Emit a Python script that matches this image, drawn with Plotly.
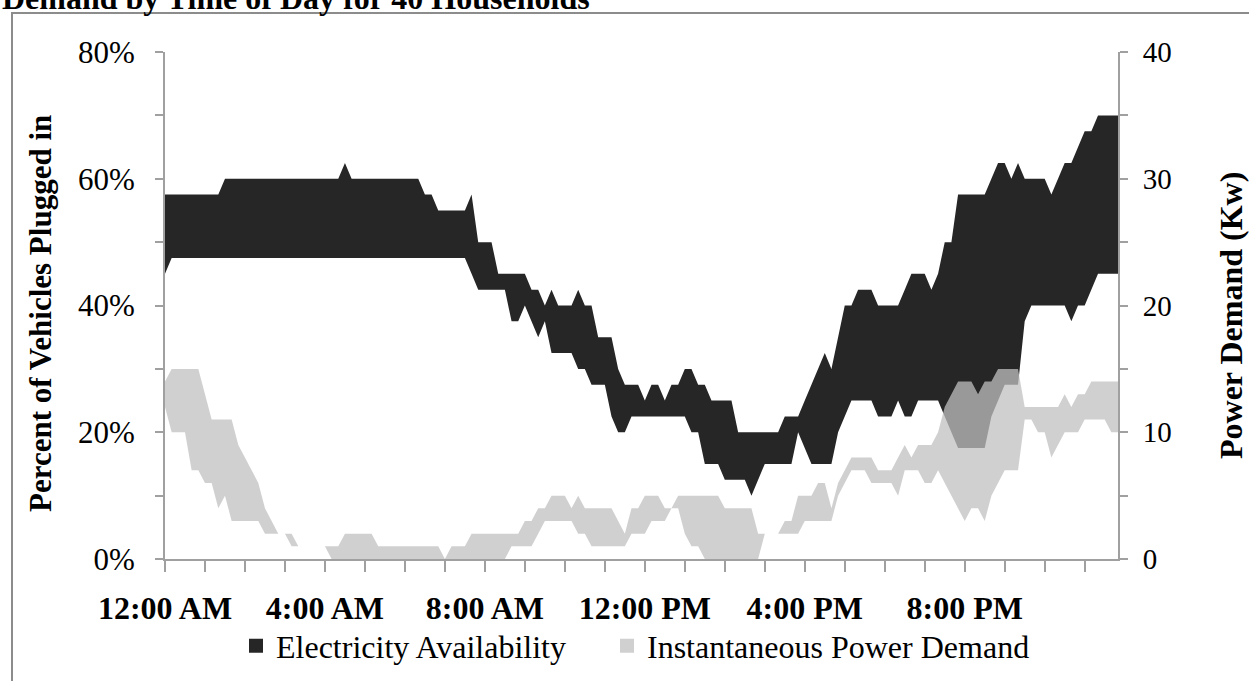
import plotly.graph_objects as go

# ---- data (10-minute slots, 00:00 .. 23:50) ----
time_slots = [f"{h:02d}:{m:02d}" for h in range(24) for m in range(0, 60, 10)]
hours = [int(t[:2]) + int(t[3:]) / 60 for t in time_slots]

# Electricity availability band (percent of vehicles plugged in), lower and upper edge
avail_low = [
    45, 47.5, 47.5, 47.5, 47.5, 47.5, 47.5, 47.5, 47.5, 47.5, 47.5, 47.5,
    47.5, 47.5, 47.5, 47.5, 47.5, 47.5, 47.5, 47.5, 47.5, 47.5, 47.5, 47.5,
    47.5, 47.5, 47.5, 47.5, 47.5, 47.5, 47.5, 47.5, 47.5, 47.5, 47.5, 47.5,
    47.5, 47.5, 47.5, 47.5, 47.5, 47.5, 47.5, 47.5, 47.5, 47.5, 45, 42.5,
    42.5, 42.5, 42.5, 42.5, 37.5, 37.5, 40, 37.5, 35, 37.5, 32.5, 32.5,
    32.5, 32.5, 30, 30, 27.5, 27.5, 27.5, 22.5, 20, 20, 22.5, 22.5,
    22.5, 22.5, 22.5, 22.5, 22.5, 22.5, 22.5, 20, 20, 15, 15, 15,
    12.5, 12.5, 12.5, 12.5, 10, 12.5, 15, 15, 15, 15, 15, 20,
    17.5, 15, 15, 15, 15, 20, 22.5, 25, 25, 25, 25, 22.5,
    22.5, 22.5, 25, 22.5, 22.5, 25, 25, 25, 25, 22.5, 20, 17.5,
    17.5, 17.5, 17.5, 17.5, 22.5, 25, 27.5, 27.5, 27.5, 37.5, 40, 40,
    40, 40, 40, 40, 37.5, 40, 40, 42.5, 45, 45, 45, 45,
]
avail_high = [
    57.5, 57.5, 57.5, 57.5, 57.5, 57.5, 57.5, 57.5, 57.5, 60, 60, 60,
    60, 60, 60, 60, 60, 60, 60, 60, 60, 60, 60, 60,
    60, 60, 60, 62.5, 60, 60, 60, 60, 60, 60, 60, 60,
    60, 60, 60, 57.5, 57.5, 55, 55, 55, 55, 55, 57.5, 50,
    50, 50, 45, 45, 45, 45, 45, 42.5, 42.5, 40, 42.5, 40,
    40, 40, 42.5, 40, 40, 35, 35, 35, 30, 27.5, 27.5, 27.5,
    25, 27.5, 27.5, 25, 27.5, 27.5, 30, 30, 27.5, 27.5, 25, 25,
    25, 25, 20, 20, 20, 20, 20, 20, 20, 22.5, 22.5, 22.5,
    25, 27.5, 30, 32.5, 30, 35, 40, 40, 42.5, 42.5, 42.5, 40,
    40, 40, 40, 42.5, 45, 45, 45, 42.5, 45, 50, 50, 57.5,
    57.5, 57.5, 57.5, 57.5, 60, 62.5, 62.5, 60, 62.5, 60, 60, 60,
    60, 57.5, 60, 62.5, 62.5, 65, 67.5, 67.5, 70, 70, 70, 70,
]

# Instantaneous power demand band (kW), lower and upper edge
demand_low = [
    12, 10, 10, 10, 7, 7, 6, 6, 4, 5, 3, 3,
    3, 3, 3, 2, 2, 2, 2, 1, 1, 1, 1, 1,
    1, 0, 0, 0, 0, 0, 0, 0, 0, 0, 0, 0,
    0, 0, 0, 0, 0, 0, 0, 0, 0, 0, 0, 0,
    0, 0, 0, 0, 1, 1, 1, 1, 2, 3, 3, 3,
    3, 3, 2, 2, 1, 1, 1, 1, 1, 1, 2, 2,
    2, 3, 3, 3, 4, 4, 2, 1, 1, 0, 0, 0,
    0, 0, 0, 0, 0, 0, 2, 2, 2, 2, 2, 2,
    3, 3, 3, 3, 3, 5, 6, 7, 7, 7, 6, 6,
    6, 6, 5, 7, 7, 7, 6, 6, 7, 6, 5, 4,
    3, 4, 4, 3, 5, 6, 7, 7, 7, 11, 11, 10,
    10, 8, 9, 10, 10, 10, 11, 11, 11, 11, 10, 10,
]
demand_high = [
    14, 15, 15, 15, 15, 15, 13, 11, 11, 11, 11, 9,
    8, 7, 6, 4, 3, 2, 2, 2, 1, 1, 1, 1,
    1, 1, 1, 2, 2, 2, 2, 2, 1, 1, 1, 1,
    1, 1, 1, 1, 1, 1, 0, 1, 1, 1, 2, 2,
    2, 2, 2, 2, 2, 2, 3, 3, 4, 4, 5, 5,
    5, 4, 5, 4, 4, 4, 4, 4, 3, 2, 4, 4,
    5, 5, 5, 4, 4, 5, 5, 5, 5, 5, 5, 5,
    4, 4, 4, 4, 4, 2, 2, 2, 2, 3, 3, 5,
    5, 5, 6, 6, 4, 6, 7, 8, 8, 8, 8, 7,
    7, 7, 8, 9, 8, 9, 9, 9, 10, 12, 13, 14,
    14, 14, 13, 14, 14, 15, 15, 15, 15, 12, 12, 12,
    12, 12, 12, 13, 12, 13, 13, 14, 14, 14, 14, 14,
]

x_tick_hours = [0, 4, 8, 12, 16, 20]
x_tick_labels = ["12:00 AM", "4:00 AM", "8:00 AM", "12:00 PM", "4:00 PM", "8:00 PM"]
series_names = ["Electricity Availability", "Instantaneous Power Demand"]

# ---- styling ----
FONT = "Liberation Serif"
DARK = "#262626"
LIGHT = "rgba(192,192,192,0.75)"
LEGEND_LIGHT = "#d0d0d0"
AXIS = "#a0a0a0"

fig = go.Figure()

fig.add_trace(go.Scatter(x=hours, y=avail_low, mode="lines", line=dict(width=0, color=DARK),
                         showlegend=False, hoverinfo="skip"))
fig.add_trace(go.Scatter(x=hours, y=avail_high, mode="lines", line=dict(width=0, color=DARK),
                         fill="tonexty", fillcolor=DARK, showlegend=False, name=series_names[0]))
fig.add_trace(go.Scatter(x=hours, y=demand_low, mode="lines", yaxis="y2",
                         line=dict(width=0, color=LIGHT), showlegend=False, hoverinfo="skip"))
fig.add_trace(go.Scatter(x=hours, y=demand_high, mode="lines", yaxis="y2",
                         line=dict(width=0, color=LIGHT), fill="tonexty", fillcolor=LIGHT,
                         showlegend=False, name=series_names[1]))

# legend keys (one legend box each, so each can be placed like the reference)
fig.add_trace(go.Scatter(x=[None], y=[None], mode="markers", name=series_names[0],
                         marker=dict(symbol="square", size=14, color=DARK), legend="legend"))
fig.add_trace(go.Scatter(x=[None], y=[None], mode="markers", name=series_names[1],
                         marker=dict(symbol="square", size=14, color=LEGEND_LIGHT), legend="legend2"))

W, H = 1249, 681
ML, MR, MT, MB = 165, 131, 52, 122
PW, PH = W - ML - MR, H - MT - MB


def px_x(px):
    return (px - ML) / PW


def px_y(py):
    return (H - MB - py) / PH


legend_common = dict(
    orientation="h", xref="container", yref="container",
    xanchor="left", yanchor="middle", y=(H - 646) / H,
    font=dict(family=FONT, size=32, color="black"), bgcolor="rgba(0,0,0,0)",
    itemclick=False,
)

fig.update_layout(
    template="none",
    width=W, height=H,
    margin=dict(l=ML, r=MR, t=MT, b=MB, pad=0, autoexpand=False),
    paper_bgcolor="white", plot_bgcolor="white",
    font=dict(family=FONT, color="black", size=29),
    xaxis=dict(
        range=[0, hours[-1]], showgrid=False, zeroline=False, automargin=False,
        showline=True, linecolor=AXIS, linewidth=2,
        tickmode="array", tickvals=x_tick_hours,
        ticktext=[f"<b>{t}</b>" for t in x_tick_labels],
        ticks="outside", ticklen=11, tickwidth=1.5, tickcolor=AXIS,
        tickfont=dict(family=FONT, size=32, color="black"),
        ticklabelstandoff=9,
        minor=dict(dtick=1, ticks="outside", ticklen=11, tickwidth=1.5, tickcolor=AXIS),
    ),
    yaxis=dict(
        range=[0, 80], showgrid=False, zeroline=False, automargin=False,
        showline=True, linecolor=AXIS, linewidth=2,
        tickmode="linear", tick0=0, dtick=20, ticksuffix="%",
        ticks="outside", ticklen=8, tickwidth=1.5, tickcolor=AXIS,
        tickfont=dict(family=FONT, size=31, color="black"),
        ticklabelstandoff=14,
        minor=dict(dtick=10, ticks="outside", ticklen=8, tickwidth=1.5, tickcolor=AXIS),
    ),
    yaxis2=dict(
        range=[0, 40], overlaying="y", side="right", showgrid=False, zeroline=False,
        automargin=False,
        showline=True, linecolor=AXIS, linewidth=2,
        tickmode="linear", tick0=0, dtick=10,
        ticks="outside", ticklen=8, tickwidth=1.5, tickcolor=AXIS,
        tickfont=dict(family=FONT, size=29, color="black"),
        ticklabelstandoff=9,
        minor=dict(dtick=5, ticks="outside", ticklen=8, tickwidth=1.5, tickcolor=AXIS),
    ),
    legend=dict(x=236 / W, **legend_common),
    legend2=dict(x=607 / W, **legend_common),
    showlegend=True,
)

annotations = [
    dict(text="<b>Demand by Time of Day for 40 Households</b>", xref="paper", yref="paper",
         x=px_x(0), y=px_y(-2), xanchor="left", yanchor="middle", showarrow=False,
         font=dict(family=FONT, size=32, color="black")),
    dict(text="<b>Percent of Vehicles Plugged in</b>", xref="paper", yref="paper",
         x=px_x(40), y=px_y(314), xanchor="center", yanchor="middle", textangle=-90,
         showarrow=False, font=dict(family=FONT, size=31, color="black")),
    dict(text="<b>Power Demand (Kw)</b>", xref="paper", yref="paper",
         x=px_x(1231), y=px_y(316), xanchor="center", yanchor="middle", textangle=-90,
         showarrow=False, font=dict(family=FONT, size=32, color="black")),
]
fig.update_layout(annotations=annotations)

# chart-area frame (extends past the picture on the right and bottom)
fig.add_shape(type="rect", xref="paper", yref="paper",
              x0=px_x(12), x1=px_x(1300), y0=px_y(720), y1=px_y(13),
              line=dict(color="#8c8c8c", width=2), fillcolor="rgba(0,0,0,0)", layer="below")

fig.write_html("out.html", config={"displayModeBar": False},
               post_script="document.body.style.margin='0';document.body.style.overflow='hidden';")
